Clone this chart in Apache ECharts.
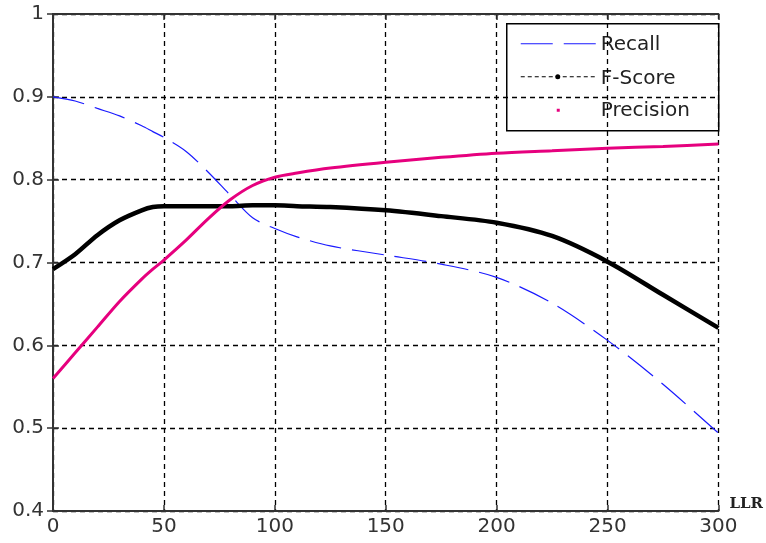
<!DOCTYPE html>
<html>
<head>
<meta charset="utf-8">
<script src="https://cdn.jsdelivr.net/npm/echarts@6/dist/echarts.min.js"></script>
<style>html,body{margin:0;padding:0;background:#fff}#c{width:766px;height:543px}</style>
</head>
<body>
<div id="c"></div>
<script>
// LLR threshold values (x)
var llr = [0, 10, 20, 30, 40, 45, 50, 60, 70, 80, 90, 100, 110, 125, 150, 175, 200, 225, 250, 275, 300];
var recall = [0.900, 0.895, 0.886, 0.877, 0.865, 0.858, 0.851, 0.834, 0.809, 0.781, 0.754, 0.741, 0.731, 0.720, 0.709, 0.698, 0.682, 0.651, 0.606, 0.553, 0.494];
var fscore = [0.692, 0.710, 0.733, 0.751, 0.763, 0.767, 0.768, 0.768, 0.768, 0.768, 0.769, 0.769, 0.768, 0.767, 0.763, 0.756, 0.748, 0.732, 0.701, 0.661, 0.621];
var precision = [0.560, 0.591, 0.622, 0.653, 0.680, 0.692, 0.703, 0.727, 0.753, 0.776, 0.793, 0.803, 0.808, 0.814, 0.821, 0.827, 0.832, 0.835, 0.838, 0.840, 0.843];
var xTicks = ['0', '50', '100', '150', '200', '250', '300'];
var yTicks = ['0.4', '0.5', '0.6', '0.7', '0.8', '0.9', '1'];
var seriesNames = ['Recall', 'F-Score', 'Precision'];

function pairs(xs, ys) { return xs.map(function (x, i) { return [x, ys[i]]; }); }

var FONT = 'DejaVu Sans';
var chart = echarts.init(document.getElementById('c'), null, {renderer: 'canvas'});
var gridDash = {color: '#000', width: 1.3, type: [5, 4]};
var frame = {show: true, lineStyle: {color: '#333', width: 2}};
var tickIn = {show: true, inside: true, length: 6, lineStyle: {color: '#333', width: 1.5}};

chart.setOption({
  animation: false,
  backgroundColor: '#fff',
  grid: {left: 53, top: 14, right: 44, bottom: 32, containLabel: false},
  xAxis: [{
    type: 'value', min: 0, max: 300, interval: 50, position: 'bottom',
    axisLine: frame, axisTick: tickIn,
    axisLabel: {margin: 6, color: '#333', fontFamily: FONT, fontSize: 20,
      formatter: function (v) { return xTicks[Math.round(v / 50)]; }},
    splitLine: {show: true, lineStyle: gridDash},
    name: 'LLR', nameLocation: 'end', nameGap: 11,
    nameTextStyle: {fontFamily: 'DejaVu Serif', fontWeight: 'bold', fontSize: 15, color: '#222', verticalAlign: 'bottom', padding: [0, 0, -1, 0]}
  }, {
    type: 'value', min: 0, max: 300, interval: 50, position: 'top',
    axisLine: frame, axisTick: tickIn, axisLabel: {show: false}, splitLine: {show: false}
  }],
  yAxis: [{
    type: 'value', min: 0.4, max: 1, interval: 0.1, position: 'left',
    axisLine: frame, axisTick: tickIn,
    axisLabel: {margin: 9, color: '#333', fontFamily: FONT, fontSize: 20,
      formatter: function (v) { return yTicks[Math.round((v - 0.4) * 10)]; }},
    splitLine: {show: true, lineStyle: gridDash}
  }, {
    type: 'value', min: 0.4, max: 1, interval: 0.1, position: 'right',
    axisLine: frame, axisTick: tickIn, axisLabel: {show: false}, splitLine: {show: false}
  }],
  series: [{
    name: seriesNames[0], type: 'line', data: pairs(llr, recall), smooth: 0.3,
    showSymbol: false, lineStyle: {color: '#1a1aff', width: 1.2, type: [32, 11]}, z: 3
  }, {
    name: seriesNames[1], type: 'line', data: pairs(llr, fscore), smooth: 0.3,
    showSymbol: false, lineStyle: {color: '#000', width: 4.5}, z: 4
  }, {
    name: seriesNames[2], type: 'line', data: pairs(llr, precision), smooth: 0.3,
    showSymbol: false, lineStyle: {color: '#e6007e', width: 3}, z: 5
  }],
  graphic: [{
    type: 'group', left: 506, top: 23, z: 100,
    children: [
      {type: 'rect', shape: {x: 0, y: 0, width: 212, height: 107}, style: {fill: '#fff', stroke: '#000', lineWidth: 1.5}},
      {type: 'line', shape: {x1: 14, y1: 20, x2: 89, y2: 20}, style: {stroke: '#1a1aff', lineWidth: 1.2, lineDash: [32, 11]}},
      {type: 'line', shape: {x1: 14, y1: 53, x2: 89, y2: 53}, style: {stroke: '#000', lineWidth: 1.2, lineDash: [4, 3]}},
      {type: 'circle', shape: {cx: 51, cy: 53, r: 2.5}, style: {fill: '#000'}},
      {type: 'rect', shape: {x: 50, y: 85, width: 3, height: 3}, style: {fill: '#e6007e'}},
      {type: 'text', x: 94, y: 21, style: {text: seriesNames[0], font: '20px "DejaVu Sans"', fill: '#222', verticalAlign: 'middle'}},
      {type: 'text', x: 94, y: 55, style: {text: seriesNames[1], font: '20px "DejaVu Sans"', fill: '#222', verticalAlign: 'middle'}},
      {type: 'text', x: 94, y: 87, style: {text: seriesNames[2], font: '20px "DejaVu Sans"', fill: '#222', verticalAlign: 'middle'}}
    ]
  }]
});
</script>
</body>
</html>
